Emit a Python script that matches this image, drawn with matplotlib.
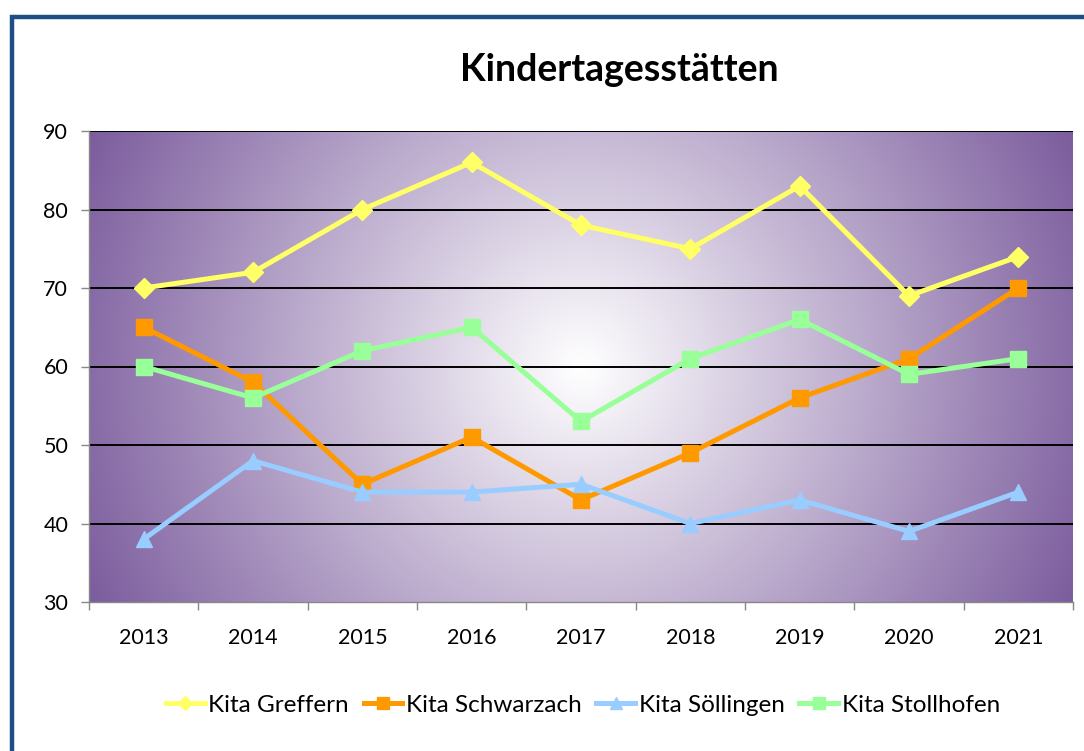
import numpy as np
import matplotlib
matplotlib.use("Agg")
import matplotlib.pyplot as plt
from matplotlib.patches import Rectangle
from matplotlib.colors import to_rgb

years = ["2013", "2014", "2015", "2016", "2017", "2018", "2019", "2020", "2021"]
greffern = [70, 72, 80, 86, 78, 75, 83, 69, 74]
schwarzach = [65, 58, 45, 51, 43, 49, 56, 61, 70]
soellingen = [38, 48, 44, 44, 45, 40, 43, 39, 44]
stollhofen = [60, 56, 62, 65, 53, 61, 66, 59, 61]
series_names = ["Kita Greffern", "Kita Schwarzach", "Kita Söllingen", "Kita Stollhofen"]

plt.rcParams['font.family'] = ['Lato', 'DejaVu Sans']

W, H = 1084, 751
fig = plt.figure(figsize=(W / 100, H / 100), dpi=100)
L, R, T, B = 89, 1073, 131, 602
ax = fig.add_axes([L / W, 1 - B / H, (R - L) / W, (B - T) / H])

# radial gradient background
pw, ph = R - L, B - T
yy, xx = np.mgrid[0:ph, 0:pw]
cx, cy = pw / 2, ph / 2
d = np.hypot(xx - cx, yy - cy) / np.hypot(cx, cy)
t = np.clip(d, 0, 1)[..., None]
purple = np.array(to_rgb("#7B5C9D"))
white = np.array([1.0, 1.0, 1.0])
img = white * (1 - t) + purple * t
ax.imshow(img, extent=(-0.5, 8.5, 30, 90), aspect='auto', zorder=0, interpolation='bilinear')

x = np.arange(len(years))
for yv in range(40, 91, 10):
    ax.axhline(yv, color="black", lw=1.4, zorder=1)

styles = [
    (greffern, "#FFFF66", "D", 10),
    (schwarzach, "#FF9900", "s", 12),
    (soellingen, "#99CCFF", "^", 12),
    (stollhofen, "#99FF99", "s", 12),
]
for (vals, col, mk, ms), name in zip(styles, series_names):
    ax.plot(x, vals, color=col, lw=3.6, marker=mk, ms=ms, mec=col, mfc=col,
            label=name, zorder=3, solid_joinstyle='miter')

ax.set_xlim(-0.5, 8.5)
ax.set_ylim(30, 90)
ax.set_yticks(range(30, 91, 10))
ax.set_xticks(x)
ax.set_xticklabels(years)
ax.set_xticks(np.arange(-0.5, 9, 1), minor=True)
ax.tick_params(axis='x', which='major', length=0, pad=19, labelsize=15.5)
ax.tick_params(axis='x', which='minor', length=6, color='#888888', width=1)
ax.tick_params(axis='y', length=6, color='#888888', width=1, labelsize=15.5, pad=9)
for s in ['top', 'right']:
    ax.spines[s].set_visible(False)
for s in ['left', 'bottom']:
    ax.spines[s].set_color('#888888')
    ax.spines[s].set_linewidth(1)

fig.text(619 / W, 1 - 70 / H, "Kindertagesstätten", ha='center', va='center',
         fontsize=27, fontweight='bold')

leg = fig.legend(loc='center', bbox_to_anchor=(583 / W, 1 - 705 / H), ncol=4,
                 frameon=False, fontsize=17.5, handlelength=1.6, columnspacing=0.6,
                 handletextpad=0.15, markerscale=0.75)

fig.patches.append(Rectangle((11.5 / W, -0.1), 1.2, (1 - 17 / H) + 0.1,
                             transform=fig.transFigure, fill=False,
                             edgecolor="#1F4E87", lw=3.2, zorder=10))

fig.savefig("out.png", dpi=100)
